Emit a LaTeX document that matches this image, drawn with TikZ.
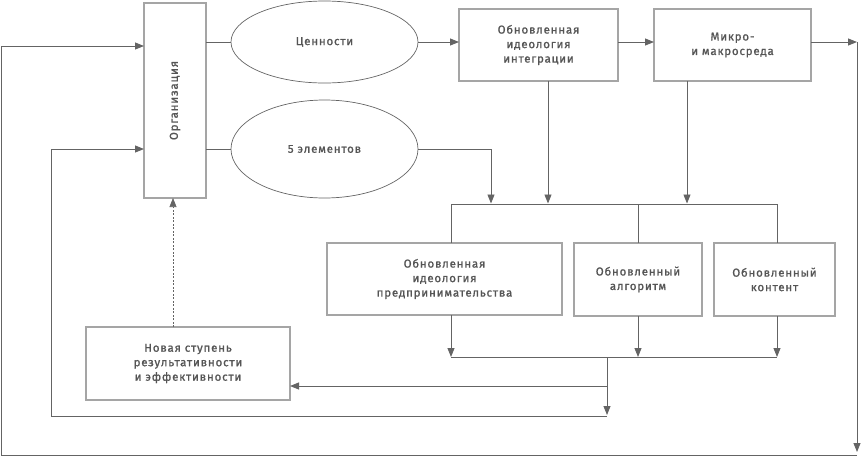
\documentclass[tikz,border=0pt]{standalone}
\usepackage{fontspec}
\setmainfont{Fira Sans}[LetterSpace=7, FakeBold=1.2]
\usetikzlibrary{arrows.meta,shapes.geometric}
\definecolor{linec}{RGB}{100,100,100}
\definecolor{boxc}{RGB}{165,165,165}
\definecolor{textc}{RGB}{85,85,85}
\begin{document}
\begin{tikzpicture}[x=1pt,y=-1pt,
  every node/.style={font=\fontsize{11.5}{14.5}\selectfont, text=textc, align=center, inner sep=0pt, outer sep=0pt},
  box/.style={draw=boxc, line width=1.2pt, rectangle},
  oval/.style={draw=linec, line width=0.7pt, ellipse},
  conn/.style={draw=linec, line width=0.9pt},
  arr/.style={conn, -{Triangle[length=9pt,width=7pt]}}]
\useasboundingbox (0,0) rectangle (862,456);

% nodes
\node[box, minimum width=62pt, minimum height=195pt] (org) at (175,100.5) {\rotatebox{90}{Организация}};
\node[oval, minimum width=187pt, minimum height=82pt] (val) at (324.5,42) {Ценности};
\node[oval, minimum width=187pt, minimum height=98pt] (five) at (324.5,149) {5 элементов};
\node[box, minimum width=159pt, minimum height=72pt] (integ) at (538.5,45) {Обновленная\\идеология\\интеграции};
\node[box, minimum width=157pt, minimum height=72pt] (micro) at (732.5,45) {Микро-\\и макросреда};
\node[box, minimum width=235pt, minimum height=72pt] (ent) at (444.5,279) {Обновленная\\идеология\\предпринимательства};
\node[box, minimum width=128pt, minimum height=73pt] (alg) at (638,279.5) {Обновленный\\алгоритм};
\node[box, minimum width=121pt, minimum height=73pt] (cont) at (774.5,279.5) {Обновленный\\контент};
\node[box, minimum width=204pt, minimum height=73pt] (new) at (188,363.5) {Новая ступень\\результативности\\и эффективности};

% coordinates
\coordinate (R1) at (857,42);
\coordinate (R2) at (857,452);
\coordinate (R3) at (857,455);
\coordinate (L1) at (1,455);
\coordinate (L2) at (1,46);
\coordinate (M1) at (51,416);
\coordinate (M2) at (51,149);
\coordinate (D1) at (451,204);
\coordinate (D2) at (638,204);
\coordinate (D3) at (777,204);
\coordinate (C1) at (451,357);
\coordinate (C2) at (638,357);
\coordinate (C3) at (777,357);
\coordinate (CM) at (607,357);
\coordinate (CN) at (607,386);
\coordinate (CB) at (607,415);
\coordinate (CB2) at (607,416);

% top row
\draw[conn] (org.east |- val) -- (val.west);
\draw[arr] (val.east) -- (val.east -| integ.west);
\draw[arr] (integ.east |- val) -- (micro.west |- val);
\draw[arr] (micro.east |- val) -- (R1);
\draw[arr] (R1) -- (R2);
\draw[arr] (R3) -- (L1) -- (L2) -- (org.west |- L2);

% five elements
\draw[conn] (org.east |- five) -- (five.west);
\draw[arr] (five.east) -| (491,203.5);
\draw[arr] (integ.south -| 548,0) -- (548,203.5);
\draw[arr] (micro.south -| 687,0) -- (687,203.5);

% distribution
\draw[conn] (ent.north -| D1) -- (D1) -- (D3) -- (cont.north -| D3);
\draw[conn] (D2) -- (alg.north);

% collection
\draw[arr] (ent.south -| C1) -- (C1);
\draw[arr] (alg.south) -- (C2);
\draw[arr] (cont.south -| C3) -- (C3);
\draw[conn] (C1) -- (C3);
\draw[conn] (CM) -- (CN);
\draw[arr] (CN) -- (new.east |- CN);
\draw[arr] (CN) -- (CB);
\draw[arr] (CB2) -- (M1) -- (M2) -- (org.west |- M2);

% dashed feedback
\draw[arr, dashed, line width=0.6pt, dash pattern=on 2pt off 1.5pt] (new.north -| 173,0) -- (org.south -| 173,0);
\end{tikzpicture}
\end{document}
